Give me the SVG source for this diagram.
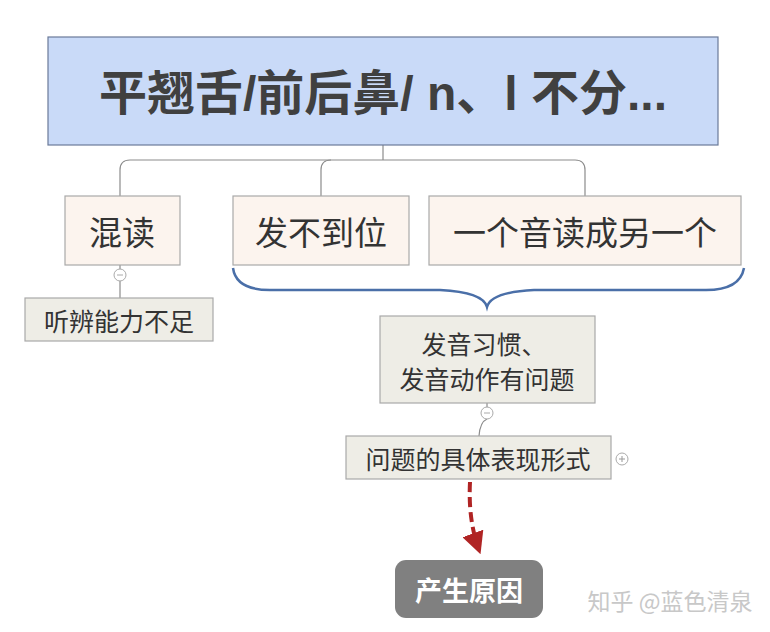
<svg xmlns="http://www.w3.org/2000/svg" width="770" height="632" viewBox="0 0 770 632">
<defs>
<style>
.t{font-family:"Noto Sans CJK SC","Liberation Sans",sans-serif;fill:#333;text-anchor:middle;dominant-baseline:central}
.box{fill:#fcf4ee;stroke:#a9a9a9;stroke-width:1.2}
.sub{fill:#eeede6;stroke:#a9a9a9;stroke-width:1.2}
.ln{fill:none;stroke:#8c8c8c;stroke-width:1.2}
.circ{fill:#fff;stroke:#aaa;stroke-width:1}
</style>
<marker id="ah" viewBox="0 0 10 10" refX="8" refY="5" markerWidth="5.5" markerHeight="5.5" orient="auto" markerUnits="strokeWidth">
<path d="M0,0 L10,5 L0,10 Z" fill="#b02424"/>
</marker>
</defs>
<rect width="770" height="632" fill="#fff"/>
<g id="connectors">
<path class="ln" d="M383,145 V160"/>
<path class="ln" d="M120,196 V170 Q120,160 130,160 H575 Q585,160 585,170 V196"/>
<path class="ln" d="M321,196 V170 Q321,160 331,160"/>
<path class="ln" d="M120,265 V298"/>
<path class="ln" d="M487,403 V408"/>
<path class="ln" d="M487,419 Q480,422 479,436"/>
<path d="M233,268 Q236,290 270,290 L440,290 Q483,292 487,307 Q491,292 534,290 L706,290 Q740,290 744,268" fill="none" stroke="#4a6fa8" stroke-width="2.5"/>
<path d="M470,482 Q468,520 479,550" fill="none" stroke="#b02424" stroke-width="4" stroke-dasharray="10,5" marker-end="url(#ah)"/>
</g>
<g id="root">
<rect x="48" y="37" width="670" height="108" fill="#c9daf8" stroke="#6b7a99" stroke-width="1.2"/>
<text class="t" x="383" y="93" style="font-family:'Liberation Sans','Noto Sans CJK SC',sans-serif;font-size:48px;font-weight:bold;fill:#404040">平翘舌/前后鼻/ n、l 不分...</text>
</g>
<g id="n1">
<rect class="box" x="65" y="196" width="115" height="69"/>
<text class="t" x="122" y="231" style="font-size:33px">混读</text>
</g>
<g id="n1c">
<circle class="circ" cx="120" cy="275" r="6"/>
<path d="M117,275 H123" stroke="#aaa" stroke-width="1"/>
</g>
<g id="n2">
<rect class="box" x="233" y="196" width="176" height="69"/>
<text class="t" x="321" y="231" style="font-size:33px">发不到位</text>
</g>
<g id="n3">
<rect class="box" x="429" y="196" width="312" height="69"/>
<text class="t" x="585" y="231" style="font-size:33px">一个音读成另一个</text>
</g>
<g id="n4">
<rect class="sub" x="25" y="298" width="188" height="43"/>
<text class="t" x="119" y="320" style="font-size:25px">听辨能力不足</text>
</g>
<g id="n5">
<rect class="sub" x="380" y="316" width="215" height="87"/>
<text class="t" x="484" y="343" style="font-size:25px">发音习惯、</text>
<text class="t" x="487" y="378" style="font-size:25px">发音动作有问题</text>
</g>
<g id="n5c">
<circle class="circ" cx="487" cy="413" r="6"/>
<path d="M484,413 H490" stroke="#aaa" stroke-width="1"/>
</g>
<g id="n6">
<rect class="sub" x="346" y="436" width="265" height="43"/>
<text class="t" x="478" y="458" style="font-size:25px">问题的具体表现形式</text>
</g>
<g id="n6c">
<circle class="circ" cx="622" cy="459" r="6"/>
<path d="M619,459 H625 M622,456 V462" stroke="#999" stroke-width="1"/>
</g>
<g id="n7">
<rect x="395" y="560" width="148" height="58" rx="11" fill="#808080"/>
<text class="t" x="469" y="589" style="font-size:27px;font-weight:bold;fill:#fff">产生原因</text>
</g>
<text class="t" x="670" y="600" style="font-size:23px;fill:#c8c8c8">知乎 @蓝色清泉</text>
</svg>
